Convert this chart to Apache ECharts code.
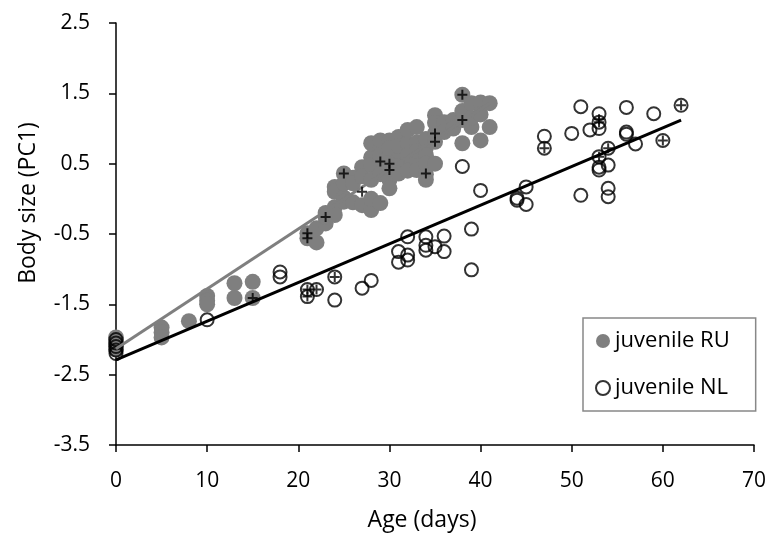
<!DOCTYPE html>
<html>
<head>
<meta charset="utf-8">
<script src="https://cdn.jsdelivr.net/npm/echarts@6/dist/echarts.min.js"></script>
<style>html,body{margin:0;padding:0;background:#fff}#c{width:771px;height:541px}</style>
</head>
<body>
<div id="c"></div>
<script>
// ---- data ----
const seriesNames = ['juvenile RU', 'juvenile NL'];
const xTicks = [0, 10, 20, 30, 40, 50, 60, 70];
const yTicks = [-3.5, -2.5, -1.5, -0.5, 0.5, 1.5, 2.5];

// juvenile RU: [age (days), body size PC1]
const ruPoints = [
  [0,-1.97],[0,-2.02],[0,-2.06],[0,-2.1],[0,-2.14],
  [5,-1.83],[5,-1.9],[5,-1.97],
  [8,-1.74],
  [10,-1.38],[10,-1.45],[10,-1.5],
  [13,-1.2],[13,-1.41],
  [15,-1.18],[15,-1.41],
  [21,-0.49],[21,-0.56],
  [22,-0.62],[22,-0.42],
  [23,-0.35],[23,-0.26],[23,-0.2],
  [24,-0.12],[24,0.17],[24,-0.23],[24,0.1],
  [25,0.36],[25,0.02],[25,0.22],[25,-0.04],
  [26,-0.05],[26,0.3],[26,0.22],
  [27,0.45],[27,-0.09],[27,0.32],
  [28,0.59],[28,0.79],[28,-0.16],[28,0.0],[28,0.48],[28,0.27],
  [29,0.53],[29,0.73],[29,0.83],[29,-0.06],[29,0.35],[29,0.62],
  [30,0.5],[30,0.41],[30,0.83],[30,0.27],[30,0.6],[30,0.72],[30,0.15],
  [31,0.88],[31,0.36],[31,0.55],[31,0.68],[31,0.75],
  [32,0.79],[32,0.98],[32,0.5],[32,0.62],[32,0.4],
  [33,1.02],[33,0.55],[33,0.41],[33,0.8],[33,0.68],
  [34,0.73],[34,0.35],[34,0.62],[34,0.5],[34,0.27],[34,0.85],
  [35,0.93],[35,0.81],[35,1.19],[35,0.5],[35,1.08],
  [36,1.09],[36,0.95],
  [37,1.12],[37,1.0],
  [38,1.48],[38,1.12],[38,0.79],[38,1.25],
  [39,1.36],[39,1.02],[39,1.15],
  [40,1.37],[40,0.83],[40,1.2],
  [41,1.36],[41,1.02]
];

// juvenile NL: [age (days), body size PC1]
const nlPoints = [
  [0,-2.0],[0,-2.05],[0,-2.1],[0,-2.15],[0,-2.2],
  [10,-1.72],
  [18,-1.04],[18,-1.11],
  [21,-1.29],[21,-1.39],
  [22,-1.29],
  [24,-1.11],[24,-1.44],
  [27,-1.27],
  [28,-1.16],
  [31,-0.75],[31,-0.9],
  [32,-0.54],[32,-0.8],[32,-0.87],
  [34,-0.54],[34,-0.66],[34,-0.73],
  [35,-0.68],
  [36,-0.53],[36,-0.75],
  [38,0.46],
  [39,-0.43],[39,-1.01],
  [40,0.12],
  [44,0.01],[44,-0.02],
  [45,0.17],[45,-0.08],
  [47,0.89],[47,0.72],
  [50,0.93],
  [51,1.31],[51,0.05],
  [52,0.98],
  [53,1.21],[53,1.09],[53,1.0],[53,0.6],[53,0.45],[53,0.41],
  [54,0.72],[54,0.48],[54,0.15],[54,0.03],
  [56,1.3],[56,0.95],[56,0.92],
  [57,0.78],
  [59,1.21],
  [60,0.83],
  [62,1.33]
];

// points carrying an extra "+" mark
const ruPlus = [[15,-1.41],[21,-0.49],[21,-0.56],[23,-0.26],[25,0.36],[27,0.1],[29,0.53],[30,0.5],[30,0.41],[34,0.36],[35,0.93],[35,0.81],[38,1.48],[38,1.12]];
const nlPlus = [[21,-1.29],[21,-1.39],[22,-1.29],[24,-1.11],[47,0.72],[53,1.09],[53,1.13],[53,0.6],[54,0.72],[60,0.83],[62,1.33]];

// linear trend lines (end points)
const ruTrend = [[0,-2.13],[41,1.36]];
const nlTrend = [[0,-2.29],[62,1.12]];

// ---- chart ----
const FONT = 'Open Sans';
const GREY = '#7f7f7f';
const PLUS = 'path://M4,0H6V4H10V6H6V10H4V6H0V4H4Z';

const chart = echarts.init(document.getElementById('c'), null, {renderer: 'canvas'});
chart.setOption({
  animation: false,
  backgroundColor: '#fff',
  textStyle: {fontFamily: FONT},
  grid: {left: 116, right: 17, top: 23, bottom: 96, containLabel: false, outerBoundsMode: 'none'},
  legend: {
    data: [
      {name: seriesNames[0], icon: 'circle', itemStyle: {color: GREY, borderWidth: 0}},
      {name: seriesNames[1], icon: 'circle', itemStyle: {color: 'rgba(0,0,0,0)', borderColor: '#000', borderWidth: 2}}
    ],
    orient: 'vertical',
    left: 583, top: 318,
    itemWidth: 14, itemHeight: 14,
    itemGap: 25, itemTextGap: 7,
    padding: [12, 26, 12, 12],
    borderColor: '#888', borderWidth: 1.5,
    textStyle: {fontFamily: FONT, fontSize: 22, color: '#000'}
  },
  xAxis: {
    type: 'value', min: xTicks[0], max: xTicks[xTicks.length - 1], interval: 10,
    axisLine: {onZero: false, lineStyle: {color: '#000', width: 1.5}},
    axisTick: {show: true, length: 7, inside: false, lineStyle: {color: '#000', width: 1.5}},
    axisLabel: {margin: 26, fontFamily: FONT, fontSize: 21, color: '#000'},
    splitLine: {show: false},
    name: 'Age (days)', nameLocation: 'middle', nameGap: 64,
    nameTextStyle: {fontFamily: FONT, fontSize: 23, color: '#000', padding: [0, 26, 0, 0]}
  },
  yAxis: {
    type: 'value', min: yTicks[0], max: yTicks[yTicks.length - 1],
    axisLine: {show: true, onZero: false, lineStyle: {color: '#000', width: 1.5}},
    axisTick: {show: true, length: 7, inside: false, customValues: yTicks, lineStyle: {color: '#000', width: 1.5}},
    axisLabel: {margin: 26, fontFamily: FONT, fontSize: 21, color: '#000', customValues: yTicks,
      formatter: v => Number(v).toFixed(1)},
    splitLine: {show: false},
    name: 'Body size (PC1)', nameLocation: 'middle', nameGap: 76, nameRotate: 90,
    nameTextStyle: {fontFamily: FONT, fontSize: 23, color: '#000', padding: [0, 0, 0, 62]}
  },
  series: [
    {
      name: seriesNames[0], type: 'scatter', data: ruPoints, symbol: 'circle', symbolSize: 16,
      itemStyle: {color: GREY, opacity: 1}, z: 2
    },
    {
      name: seriesNames[1], type: 'scatter', data: nlPoints, symbol: 'circle', symbolSize: 13,
      itemStyle: {color: 'rgba(0,0,0,0)', borderColor: '#000', borderWidth: 2}, z: 3
    },
    {
      name: 'RU trend', type: 'line', data: ruTrend, showSymbol: false, symbol: 'none',
      lineStyle: {color: GREY, width: 3}, z: 4, silent: true
    },
    {
      name: 'NL trend', type: 'line', data: nlTrend, showSymbol: false, symbol: 'none',
      lineStyle: {color: '#000', width: 3}, z: 4, silent: true
    },
    {
      name: 'RU plus', type: 'scatter', data: ruPlus, symbol: PLUS, symbolSize: 10,
      itemStyle: {color: '#000'}, z: 5, silent: true
    },
    {
      name: 'NL plus', type: 'scatter', data: nlPlus, symbol: PLUS, symbolSize: 10,
      itemStyle: {color: '#000'}, z: 5, silent: true
    }
  ]
});
</script>
</body>
</html>
